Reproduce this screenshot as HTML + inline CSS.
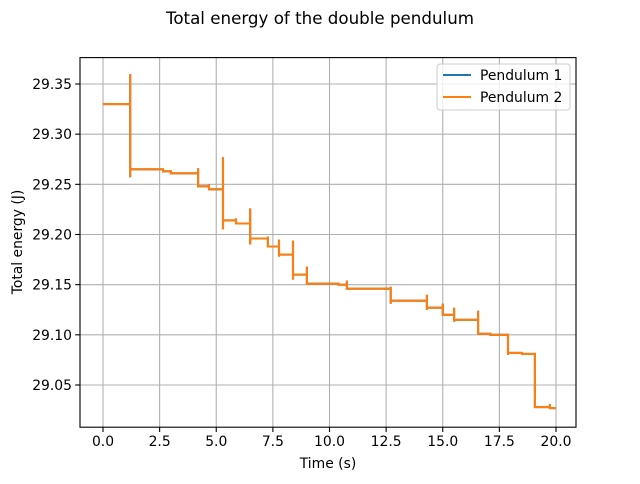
<!DOCTYPE html>
<html><head><meta charset="utf-8"><style>
body{margin:0;background:#fff;font-family:"DejaVu Sans","Liberation Sans",sans-serif;}
</style></head><body>
<svg width="640" height="480" xmlns="http://www.w3.org/2000/svg" style="font-family:'DejaVu Sans','Liberation Sans',sans-serif">
<rect width="640" height="480" fill="#fff"/>
<text x="320" y="24" text-anchor="middle" font-size="16.7">Total energy of the double pendulum</text>
<g id="grid"></g><g id="series"></g><g id="axes"></g>
<rect x="80" y="57.6" width="496" height="369.6" fill="none" stroke="#000" stroke-width="1.1"/>
<text x="328" y="468" text-anchor="middle" font-size="13.9">Time (s)</text>
<text transform="translate(22,242) rotate(-90)" text-anchor="middle" font-size="13.9">Total energy (J)</text>
<g>
<rect x="437" y="64" width="133" height="46" rx="3" fill="#fff" fill-opacity="0.8" stroke="#ccc"/>
<line x1="443" y1="75" x2="471" y2="75" stroke="#1f77b4" stroke-width="2.1"/>
<text x="480" y="80" font-size="13.9">Pendulum 1</text>
<line x1="443" y1="97" x2="471" y2="97" stroke="#ff7f0e" stroke-width="2.1"/>
<text x="480" y="102" font-size="13.9">Pendulum 2</text>
</g>
</svg>
<script>
const levels=[29.33,29.265,29.263,29.261,29.248,29.245,29.214,29.211,29.196,29.188,29.18,29.16,29.151,29.15,29.146,29.134,29.127,29.12,29.115,29.101,29.1,29.082,29.081,29.028,29.027];
const segStart=[0,1.2,2.65,3.0,4.2,4.68,5.3,5.87,6.5,7.28,7.77,8.39,9.0,10.4,10.77,12.7,14.3,15.0,15.5,16.56,17.1,17.88,18.5,19.07,19.73];
const segEnd=[1.2,2.65,3.0,4.2,4.68,5.3,5.87,6.5,7.28,7.77,8.39,9.0,10.4,10.77,12.7,14.3,15.0,15.5,16.56,17.1,17.88,18.5,19.07,19.73,20.0];
const spikeHi=[29.36,29.266,29.263,29.266,29.25,29.277,29.216,29.226,29.198,29.195,29.194,29.168,29.152,29.154,29.148,29.14,29.131,29.127,29.124,29.102,29.101,29.083,29.081,29.031,29.027];
const spikeLo=[29.257,29.263,29.261,29.255,29.245,29.205,29.211,29.19,29.188,29.178,29.155,29.155,29.15,29.146,29.131,29.125,29.12,29.113,29.108,29.1,29.08,29.081,29.07,29.026,29.026];
const xTicks=[0,2.5,5,7.5,10,12.5,15,17.5,20];
const yTicks=[29.05,29.10,29.15,29.20,29.25,29.30,29.35];
const X=t=>103+t*22.65, Y=e=>84-(e-29.35)*1003.3;
const NS="http://www.w3.org/2000/svg";
function mk(tag,attrs,parent){const el=document.createElementNS(NS,tag);for(const k in attrs)el.setAttribute(k,attrs[k]);parent.appendChild(el);return el;}
const grid=document.getElementById('grid'),axes=document.getElementById('axes'),series=document.getElementById('series');
xTicks.forEach(t=>{
 const g=mk('line',{x1:X(t),x2:X(t),y1:57.6,y2:427.2,stroke:'#b0b0b0','stroke-width':1.1},grid);
 
 
 mk('line',{x1:X(t),x2:X(t),y1:427.2,y2:432,stroke:'#000','stroke-width':1.1},axes);
 const tx=mk('text',{x:X(t),y:446,'text-anchor':'middle','font-size':13.9},axes);tx.textContent=t.toFixed(1);
 
 
});
yTicks.forEach(v=>{
 const g=mk('line',{x1:80,x2:576,y1:Y(v),y2:Y(v),stroke:'#b0b0b0','stroke-width':1.1},grid);
 
 
 mk('line',{x1:75.2,x2:80,y1:Y(v),y2:Y(v),stroke:'#000','stroke-width':1.1},axes);
 const tx=mk('text',{x:72,y:Y(v)+5,'text-anchor':'end','font-size':13.9},axes);tx.textContent=v.toFixed(2);
 
 
});
let pts=[];
levels.forEach((l,i)=>{
 pts.push([segStart[i],l],[segEnd[i],l]);
 if(i<levels.length-1){pts.push([segEnd[i],spikeHi[i]],[segEnd[i],spikeLo[i]]);}
});
const d=pts.map((p,i)=>(i?'L':'M')+X(p[0]).toFixed(1)+','+Y(p[1]).toFixed(1)).join('');
const p1=mk('path',{d:d,fill:'none',stroke:'#1f77b4','stroke-width':2.1},series);


const p2=mk('path',{d:d,fill:'none',stroke:'#ff7f0e','stroke-width':2.1},series);


</script>
</body></html>
